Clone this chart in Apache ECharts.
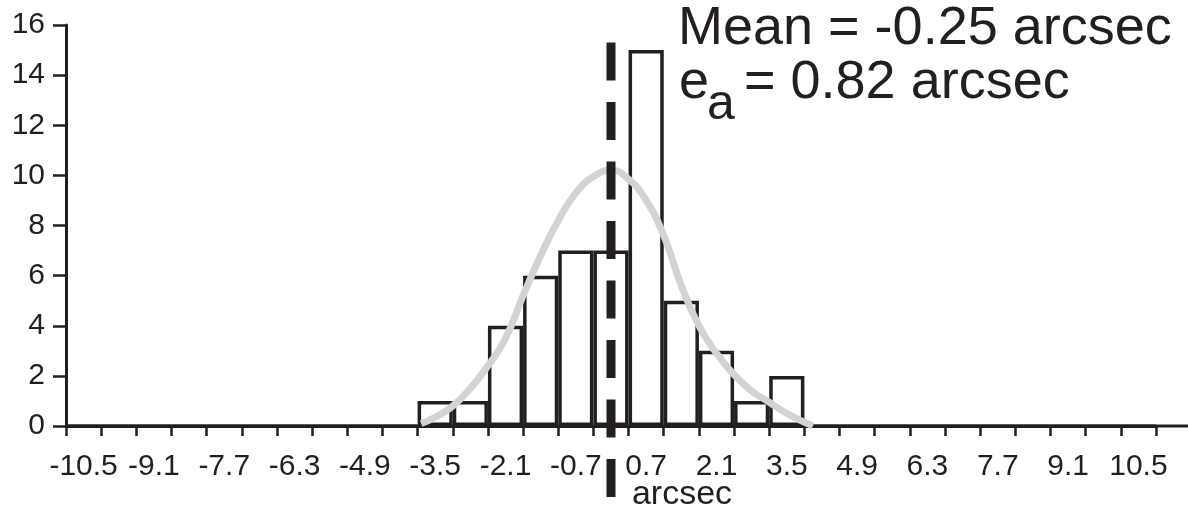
<!DOCTYPE html>
<html>
<head>
<meta charset="utf-8">
<script src="https://cdn.jsdelivr.net/npm/echarts@6/dist/echarts.min.js"></script>
<style>
  html, body { margin: 0; padding: 0; background: #fff; }
  #chart { width: 1188px; height: 513px; }
</style>
</head>
<body>
<div id="chart"></div>
<script>
// histogram bins (arcsec), 0.7 wide
const BIN_LABELS = [
  "-10.5", "-9.8", "-9.1", "-8.4", "-7.7", "-7.0", "-6.3", "-5.6", "-4.9", "-4.2",
  "-3.5", "-2.8", "-2.1", "-1.4", "-0.7", "0.0", "0.7", "1.4", "2.1", "2.8",
  "3.5", "4.2", "4.9", "5.6", "6.3", "7.0", "7.7", "8.4", "9.1", "9.8", "10.5"
];
const COUNTS = [
  0, 0, 0, 0, 0, 0, 0, 0, 0, 0,
  1, 1, 4, 6, 7, 7, 15, 5, 3, 1,
  2, 0, 0, 0, 0, 0, 0, 0, 0, 0, 0
];
// gaussian fit: [arcsec, count]
const FIT_CURVE = [
  [-3.78, 0.1], [-3.5, 0.35], [-3.15, 0.8], [-2.8, 1.5], [-2.45, 2.4],
  [-2.1, 3.5], [-1.75, 5.2], [-1.4, 6.8], [-1.05, 8.2], [-0.7, 9.3],
  [-0.35, 9.95], [0.0, 10.2], [0.35, 9.85], [0.7, 9.0], [1.05, 7.6],
  [1.4, 5.6], [1.75, 4.0], [2.1, 2.9], [2.45, 2.05], [2.8, 1.4],
  [3.15, 0.95], [3.5, 0.5], [4.02, 0.0]
];
// dashed mean marker: x position and vertical extent (count units)
const MEAN_X = 0.0;
const MEAN_LINE_Y = [15.3, -2.85];

const INK = "#231f20";
const FONT = "Liberation Sans, Arial, Helvetica, sans-serif";
const GRID = { left: 66, right: 32, top: 25, bottom: 87 };
const W = 1188, H = 513;

const chart = echarts.init(document.getElementById("chart"), null, { renderer: "canvas" });

chart.setOption({
  animation: false,
  backgroundColor: "#fff",
  textStyle: { fontFamily: FONT, color: INK },
  grid: Object.assign({ outerBoundsMode: "none", containLabel: false }, GRID),
  xAxis: [
    {
      type: "category",
      data: BIN_LABELS,
      boundaryGap: true,
      axisLine: { onZero: false, lineStyle: { color: INK, width: 3 } },
      axisTick: { show: true, interval: 0, length: 10, lineStyle: { color: INK, width: 2.5 } },
      axisLabel: { interval: 1, fontSize: 30, margin: 26, color: INK, fontFamily: FONT },
      splitLine: { show: false },
      name: "arcsec",
      nameLocation: "middle",
      nameGap: 52,
      nameMoveOverlap: false,
      nameTextStyle: { fontSize: 34, color: INK, fontFamily: FONT, padding: [0, 0, 0, 142] }
    },
    {
      type: "value",
      min: -10.85,
      max: 10.85,
      show: false
    }
  ],
  yAxis: {
    type: "value",
    min: 0,
    max: 16,
    interval: 2,
    axisLine: { show: true, onZero: false, lineStyle: { color: INK, width: 3 } },
    axisTick: { show: true, length: 13, lineStyle: { color: INK, width: 2.5 } },
    axisLabel: { fontSize: 30, margin: 21, color: INK, fontFamily: FONT },
    splitLine: { show: false }
  },
  series: [
    {
      type: "bar",
      xAxisIndex: 0,
      data: COUNTS,
      barCategoryGap: "0%",
      itemStyle: { color: "#fff", borderColor: INK, borderWidth: 3.5 },
      z: 2
    },
    {
      type: "line",
      xAxisIndex: 1,
      data: FIT_CURVE,
      smooth: 0.5,
      symbol: "none",
      lineStyle: { color: "#d1d3d4", width: 7 },
      z: 3
    },
    {
      type: "line",
      xAxisIndex: 1,
      data: [[MEAN_X, MEAN_LINE_Y[0]], [MEAN_X, MEAN_LINE_Y[1]]],
      clip: false,
      symbol: "none",
      lineStyle: { color: INK, width: 9, type: [38, 21.5], cap: "butt" },
      z: 4
    }
  ],
  graphic: [
    // x axis line runs on to the page edge
    {
      type: "line",
      shape: { x1: W - GRID.right, y1: H - GRID.bottom, x2: W, y2: H - GRID.bottom },
      style: { stroke: INK, lineWidth: 3 }
    },
    {
      type: "text",
      x: 678, y: 29,
      style: { text: "Mean = -0.25 arcsec", font: "54px " + FONT, fill: INK, verticalAlign: "middle" }
    },
    {
      type: "text",
      x: 679, y: 83,
      style: { text: "e", font: "54px " + FONT, fill: INK, verticalAlign: "middle" }
    },
    {
      type: "text",
      x: 707, y: 105,
      style: { text: "a", font: "50px " + FONT, fill: INK, verticalAlign: "middle" }
    },
    {
      type: "text",
      x: 744, y: 83,
      style: { text: "= 0.82 arcsec", font: "54px " + FONT, fill: INK, verticalAlign: "middle" }
    }
  ]
});
</script>
</body>
</html>
